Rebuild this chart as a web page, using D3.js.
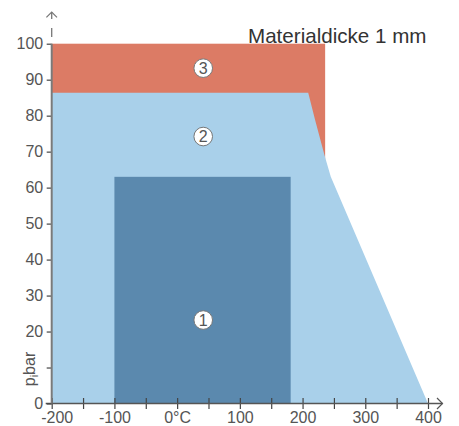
<!DOCTYPE html>
<html><head><meta charset="utf-8">
<script src="https://cdn.jsdelivr.net/npm/d3@7"></script>
<style>body{margin:0;background:#fff}svg{display:block}</style>
</head><body>
<script>
// ---- data ----
const xTicks = [-200,-150,-100,-50,0,50,100,150,200,250,300,350,400];
const xTickLabels = {"-200":"-200","-100":"-100","0":"0°C","100":"100","200":"200","300":"300","400":"400"};
const yTicks = [0,10,20,30,40,50,60,70,80,90,100];
const yTickLabels = {0:"0",20:"20",30:"30",40:"40",50:"50",60:"60",70:"70",80:"80",90:"90",100:"100"};
// region 3: rectangle (temperature range, pressure range)
const zone3X = [-200, 236];
const zone3Y = [60, 100];
// region 2: boundary polygon [temperature, pressure]
const zone2 = [[-200,0],[-200,86.4],[209,86.4],[220,78.8],[235,69],[245,63],[400,0]];
// region 1: rectangle
const zone1X = [-100, 181];
const zone1Y = [0, 63];
// circled labels
const markers = [{n:"1",x:40,y:23.2},{n:"2",x:40,y:74.2},{n:"3",x:40,y:93.2}];
const title = "Materialdicke 1 mm";

// ---- drawing ----
const W=459,H=426;
const x = d3.scaleLinear().domain([-200,400]).range([51.7,428]);
const y = d3.scaleLinear().domain([0,100]).range([403.5,43.7]);
const svg = d3.select("body").append("svg").attr("width",W).attr("height",H);
const font = "'Liberation Sans', Arial, sans-serif";

svg.append("rect").attr("x",x(zone3X[0])).attr("y",y(zone3Y[1]))
  .attr("width",x(zone3X[1])-x(zone3X[0])).attr("height",y(zone3Y[0])-y(zone3Y[1]))
  .attr("fill","#DC7B65");
svg.append("path").attr("d",d3.line().x(d=>x(d[0])).y(d=>y(d[1]))(zone2)+"Z")
  .attr("fill","#A9D0EA");
svg.append("rect").attr("x",x(zone1X[0])).attr("y",y(zone1Y[1]))
  .attr("width",x(zone1X[1])-x(zone1X[0])).attr("height",y(zone1Y[0])-y(zone1Y[1]))
  .attr("fill","#5B89AE");

// markers
const mk = svg.selectAll("g.mk").data(markers).join("g").attr("class","mk")
  .attr("transform",d=>`translate(${x(d.x)+1},${y(d.y)})`);
mk.append("circle").attr("r",9.3).attr("fill","#fff").attr("stroke","#777").attr("stroke-width",1);
mk.append("text").text(d=>d.n).attr("text-anchor","middle").attr("dy","0.36em")
  .attr("font-family",font).attr("font-size",16).attr("fill","#555");

// x axis
const xAxis = d3.axisBottom(x).tickValues(xTicks).tickSize(5.5).tickSizeOuter(0)
  .tickFormat(d=>xTickLabels[d]||"");
const gx = svg.append("g").attr("transform",`translate(0,${y(0)})`).call(xAxis);
gx.select(".domain").remove();
gx.selectAll(".tick line").attr("y1",-5.5).attr("stroke","#444").attr("stroke-width",1.2);
gx.selectAll(".tick text").attr("font-family",font).attr("font-size",16).attr("fill","#555")
  .attr("y",8.5).attr("dx",d=>d===-200?5:0);
gx.append("line").attr("x1",x(-200)-6).attr("x2",x(400)+14.5).attr("y1",0).attr("y2",0)
  .attr("stroke","#555").attr("stroke-width",1.3);
gx.append("path").attr("d",`M${x(400)+9},-5.5L${x(400)+14.5},0L${x(400)+9},5.5`)
  .attr("fill","none").attr("stroke","#555").attr("stroke-width",1.2);

// y axis
const yAxis = d3.axisLeft(y).tickValues(yTicks).tickSize(5).tickSizeOuter(0)
  .tickFormat(d=>yTickLabels[d]||"");
const gy = svg.append("g").attr("transform",`translate(${x(-200)},0)`).call(yAxis);
gy.select(".domain").remove();
gy.selectAll(".tick line").attr("stroke","#444").attr("stroke-width",1.2);
gy.selectAll(".tick text").attr("font-family",font).attr("font-size",16).attr("fill","#555")
  .attr("x",-8.5);
gy.append("line").attr("x1",0).attr("x2",0).attr("y1",y(0)).attr("y2",y(100))
  .attr("stroke","#7a7a7a").attr("stroke-width",2);
gy.append("line").attr("x1",0).attr("x2",0).attr("y1",28).attr("y2",37)
  .attr("stroke","#777").attr("stroke-width",1.3);
gy.append("line").attr("x1",0).attr("x2",0).attr("y1",12).attr("y2",19)
  .attr("stroke","#777").attr("stroke-width",1.3);
gy.append("path").attr("d","M-5.3,17.3L0,12L5.3,17.3")
  .attr("fill","none").attr("stroke","#777").attr("stroke-width",1.2);

// y label
const yl = svg.append("text").attr("transform","translate(35,369) rotate(-90)")
  .attr("text-anchor","middle").attr("font-family",font).attr("font-size",16).attr("fill","#555");
yl.append("tspan").text("p");
yl.append("tspan").text("i").attr("font-size",11).attr("dy",3);
yl.append("tspan").text("bar").attr("dy",-3);

// title
svg.append("text").text(title).attr("x",248).attr("y",43.3)
  .attr("font-family",font).attr("font-size",20.6).attr("fill","#333");
</script>
</body></html>
